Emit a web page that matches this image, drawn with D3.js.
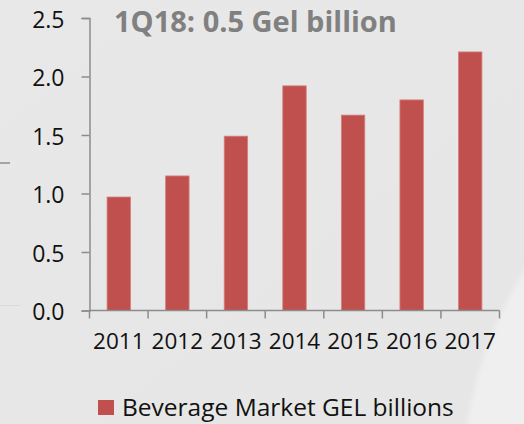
<!DOCTYPE html>
<html>
<head>
<meta charset="utf-8">
<script src="https://cdn.jsdelivr.net/npm/d3@7"></script>
<style>
  html, body { margin: 0; padding: 0; background: #e9e9e9; }
  svg { display: block; }
  text { font-family: "Open Sans", "Noto Sans", sans-serif; }
</style>
</head>
<body>
<svg id="chart" width="524" height="424"></svg>
<script>
// Beverage market size, GEL billions
const years = ["2011", "2012", "2013", "2014", "2015", "2016", "2017"];
const marketValues = [0.97, 1.15, 1.49, 1.92, 1.67, 1.80, 2.21];
const yTicks = [0, 0.5, 1.0, 1.5, 2.0, 2.5];
const titleText = "1Q18: 0.5 Gel billion";
const legendLabel = "Beverage Market GEL billions";

const barColor = "#c0504d";
const axisColor = "#8c8c8c";

const svg = d3.select("#chart");
const W = 524, H = 424;

// backdrop
const defs = svg.append("defs");
const bg = defs.append("linearGradient").attr("id", "bg").attr("x1", 0).attr("y1", 0).attr("x2", 1).attr("y2", 1);
bg.append("stop").attr("offset", 0).attr("stop-color", "#e8e8e8");
bg.append("stop").attr("offset", 1).attr("stop-color", "#e6e6e6");
const glow = defs.append("filter").attr("id", "soft").attr("x", "-20%").attr("y", "-20%").attr("width", "140%").attr("height", "140%");
glow.append("feGaussianBlur").attr("stdDeviation", 2.5);

svg.append("rect").attr("width", W).attr("height", H).attr("fill", "url(#bg)");
svg.append("path")
  .attr("d", "M530,262 C505,300 480,350 466,430 L530,430 Z")
  .attr("fill", "#efefef")
  .attr("filter", "url(#soft)");
svg.append("line").attr("x1", 0).attr("x2", 10).attr("y1", 163).attr("y2", 163)
  .attr("stroke", "#8f8f8f").attr("stroke-width", 1.5);
svg.append("line").attr("x1", 0).attr("x2", 20).attr("y1", 305.5).attr("y2", 305.5)
  .attr("stroke", "#d9d9d9").attr("stroke-width", 1);

// scales
const x = d3.scaleBand().domain(years).range([89.5, 499.5]).paddingInner(0.6).paddingOuter(0.3);
const y = d3.scaleLinear().domain([0, 2.5]).range([310.5, 18]);

// bars
svg.append("g").selectAll("rect")
  .data(years.map((yr, i) => ({ yr, v: marketValues[i] })))
  .join("rect")
  .attr("x", d => x(d.yr))
  .attr("y", d => y(d.v))
  .attr("width", x.bandwidth())
  .attr("height", d => y(0) - y(d.v))
  .attr("fill", barColor)
  .attr("stroke", "#d3817d")
  .attr("stroke-width", 0.8);

// y axis
const yAxis = svg.append("g").attr("transform", "translate(89.5,0)")
  .call(d3.axisLeft(y).tickValues(yTicks).tickFormat(d3.format(".1f")).tickSize(8).tickPadding(17));
yAxis.select(".domain").attr("stroke", axisColor).attr("stroke-width", 1.5);
yAxis.selectAll(".tick line").attr("stroke", axisColor).attr("stroke-width", 1.5);
yAxis.selectAll(".tick text")
  .attr("font-size", 23).attr("fill", "#111").attr("dy", "0.4em");

// x axis: labels centred on bands, ticks on band boundaries
const xAxis = svg.append("g").attr("transform", `translate(0,${y(0)})`)
  .call(d3.axisBottom(x).tickSize(0).tickPadding(26));
xAxis.select(".domain").remove();
xAxis.selectAll(".tick text").attr("font-size", 22.5).attr("fill", "#111").attr("dy", "0.55em");

const step = x.step();
const edge0 = x(years[0]) - (step - x.bandwidth()) / 2;
const boundaries = years.map(yr => x(yr) - (step - x.bandwidth()) / 2).concat([edge0 + step * years.length]);
const xl = svg.append("g");
xl.append("line")
  .attr("x1", boundaries[0]).attr("x2", boundaries[boundaries.length - 1])
  .attr("y1", y(0)).attr("y2", y(0))
  .attr("stroke", axisColor).attr("stroke-width", 1.5);
xl.selectAll("line.tk").data(boundaries).join("line").attr("class", "tk")
  .attr("x1", d => d).attr("x2", d => d)
  .attr("y1", y(0)).attr("y2", y(0) + 8)
  .attr("stroke", axisColor).attr("stroke-width", 1.5);

// title
svg.append("text")
  .attr("x", 114).attr("y", 32)
  .attr("font-size", 29).attr("font-weight", "bold").attr("fill", "#808080")
  .text(titleText);

// legend
svg.append("rect").attr("x", 98).attr("y", 400).attr("width", 16).attr("height", 15).attr("fill", barColor);
svg.append("text")
  .attr("x", 122).attr("y", 416)
  .attr("font-size", 24.5).attr("fill", "#111")
  .text(legendLabel);
</script>
</body>
</html>
